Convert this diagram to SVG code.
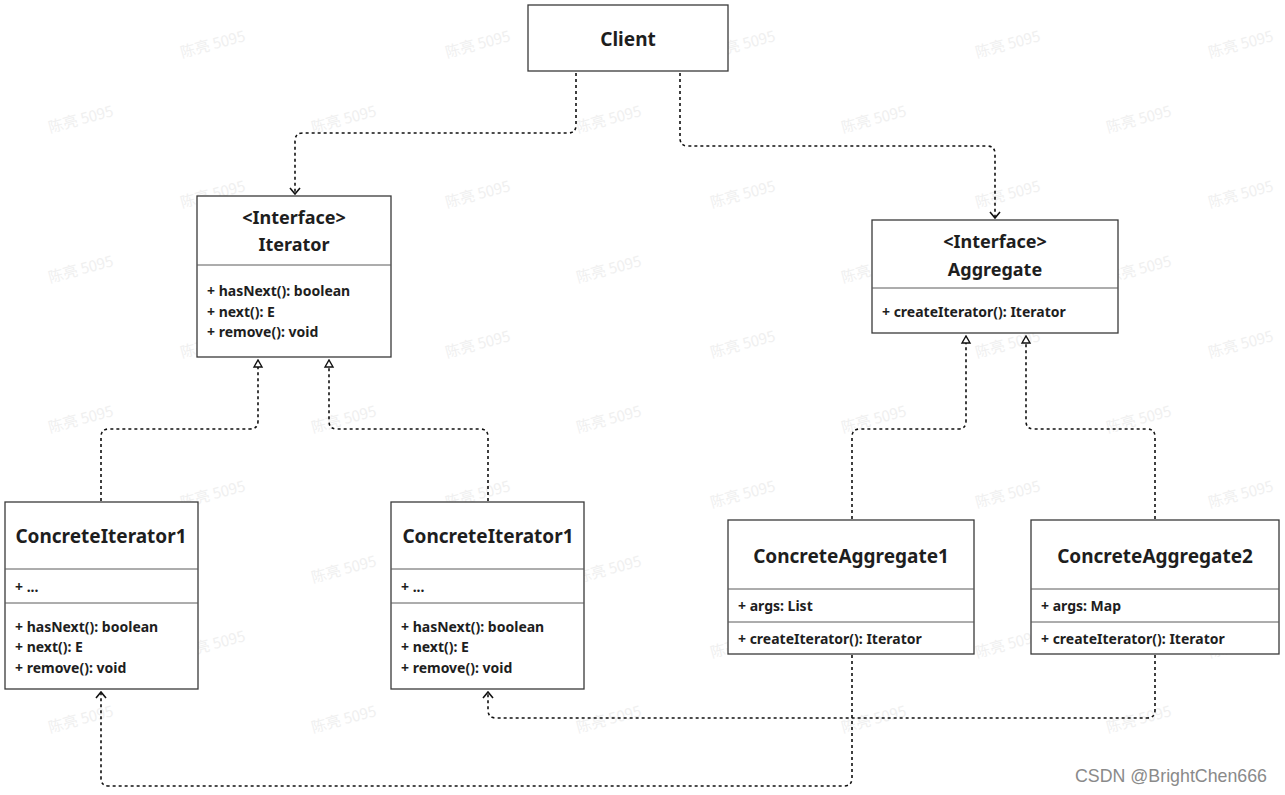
<svg xmlns="http://www.w3.org/2000/svg" width="1285" height="795" viewBox="0 0 1285 795">
<defs>
<style>
.box{fill:#fff;stroke:#3a3a3a;stroke-width:1.3}
.div{stroke:#5a5a5a;stroke-width:1}
.t{font-family:"Noto Sans","Noto Sans CJK SC",sans-serif;font-weight:700;font-size:19px;fill:#1e1e1e;text-anchor:middle}
.m{font-family:"Noto Sans","Noto Sans CJK SC",sans-serif;font-weight:700;font-size:14px;fill:#1e1e1e}
.c{fill:none;stroke:#111;stroke-width:1.6;stroke-dasharray:3 3}
.wm{font-family:"Noto Sans CJK SC","Noto Sans",sans-serif;font-size:15px;fill:#f0f0f0}
</style>
<marker id="open" viewBox="0 0 12 12" refX="11" refY="6" markerWidth="12" markerHeight="12" markerUnits="userSpaceOnUse" orient="auto">
<path d="M5,1 L11,6 L5,11" fill="none" stroke="#111" stroke-width="1.6"/>
</marker>
<marker id="tri" viewBox="0 0 12 12" refX="11" refY="6" markerWidth="12" markerHeight="12" markerUnits="userSpaceOnUse" orient="auto">
<path d="M4,2 L11,6 L4,10 Z" fill="#fff" stroke="#111" stroke-width="1.4"/>
</marker>
</defs>
<rect width="1285" height="795" fill="#fff"/>
<g id="watermarks">
<text class="wm" transform="translate(182,58) rotate(-15)">陈亮 5095</text>
<text class="wm" transform="translate(447,58) rotate(-15)">陈亮 5095</text>
<text class="wm" transform="translate(712,58) rotate(-15)">陈亮 5095</text>
<text class="wm" transform="translate(977,58) rotate(-15)">陈亮 5095</text>
<text class="wm" transform="translate(1210,58) rotate(-15)">陈亮 5095</text>
<text class="wm" transform="translate(50,133) rotate(-15)">陈亮 5095</text>
<text class="wm" transform="translate(313,133) rotate(-15)">陈亮 5095</text>
<text class="wm" transform="translate(578,133) rotate(-15)">陈亮 5095</text>
<text class="wm" transform="translate(843,133) rotate(-15)">陈亮 5095</text>
<text class="wm" transform="translate(1108,133) rotate(-15)">陈亮 5095</text>
<text class="wm" transform="translate(182,208) rotate(-15)">陈亮 5095</text>
<text class="wm" transform="translate(447,208) rotate(-15)">陈亮 5095</text>
<text class="wm" transform="translate(712,208) rotate(-15)">陈亮 5095</text>
<text class="wm" transform="translate(977,208) rotate(-15)">陈亮 5095</text>
<text class="wm" transform="translate(1210,208) rotate(-15)">陈亮 5095</text>
<text class="wm" transform="translate(50,283) rotate(-15)">陈亮 5095</text>
<text class="wm" transform="translate(313,283) rotate(-15)">陈亮 5095</text>
<text class="wm" transform="translate(578,283) rotate(-15)">陈亮 5095</text>
<text class="wm" transform="translate(843,283) rotate(-15)">陈亮 5095</text>
<text class="wm" transform="translate(1108,283) rotate(-15)">陈亮 5095</text>
<text class="wm" transform="translate(182,358) rotate(-15)">陈亮 5095</text>
<text class="wm" transform="translate(447,358) rotate(-15)">陈亮 5095</text>
<text class="wm" transform="translate(712,358) rotate(-15)">陈亮 5095</text>
<text class="wm" transform="translate(977,358) rotate(-15)">陈亮 5095</text>
<text class="wm" transform="translate(1210,358) rotate(-15)">陈亮 5095</text>
<text class="wm" transform="translate(50,433) rotate(-15)">陈亮 5095</text>
<text class="wm" transform="translate(313,433) rotate(-15)">陈亮 5095</text>
<text class="wm" transform="translate(578,433) rotate(-15)">陈亮 5095</text>
<text class="wm" transform="translate(843,433) rotate(-15)">陈亮 5095</text>
<text class="wm" transform="translate(1108,433) rotate(-15)">陈亮 5095</text>
<text class="wm" transform="translate(182,508) rotate(-15)">陈亮 5095</text>
<text class="wm" transform="translate(447,508) rotate(-15)">陈亮 5095</text>
<text class="wm" transform="translate(712,508) rotate(-15)">陈亮 5095</text>
<text class="wm" transform="translate(977,508) rotate(-15)">陈亮 5095</text>
<text class="wm" transform="translate(1210,508) rotate(-15)">陈亮 5095</text>
<text class="wm" transform="translate(50,583) rotate(-15)">陈亮 5095</text>
<text class="wm" transform="translate(313,583) rotate(-15)">陈亮 5095</text>
<text class="wm" transform="translate(578,583) rotate(-15)">陈亮 5095</text>
<text class="wm" transform="translate(843,583) rotate(-15)">陈亮 5095</text>
<text class="wm" transform="translate(1108,583) rotate(-15)">陈亮 5095</text>
<text class="wm" transform="translate(182,658) rotate(-15)">陈亮 5095</text>
<text class="wm" transform="translate(447,658) rotate(-15)">陈亮 5095</text>
<text class="wm" transform="translate(712,658) rotate(-15)">陈亮 5095</text>
<text class="wm" transform="translate(977,658) rotate(-15)">陈亮 5095</text>
<text class="wm" transform="translate(1210,658) rotate(-15)">陈亮 5095</text>
<text class="wm" transform="translate(50,733) rotate(-15)">陈亮 5095</text>
<text class="wm" transform="translate(313,733) rotate(-15)">陈亮 5095</text>
<text class="wm" transform="translate(578,733) rotate(-15)">陈亮 5095</text>
<text class="wm" transform="translate(843,733) rotate(-15)">陈亮 5095</text>
<text class="wm" transform="translate(1108,733) rotate(-15)">陈亮 5095</text>
</g>
<g id="connectors">
<path class="c" d="M576,73 V125 Q576,133 568,133 H303 Q295,133 295,141 V194" marker-end="url(#open)"/>
<path class="c" d="M680,73 V138 Q680,146 688,146 H987 Q995,146 995,154 V218" marker-end="url(#open)"/>
<path class="c" d="M101,501 V437 Q101,429 109,429 H250 Q258,429 258,421 V360" marker-end="url(#tri)"/>
<path class="c" d="M488,501 V437 Q488,429 480,429 H337 Q329,429 329,421 V360" marker-end="url(#tri)"/>
<path class="c" d="M852,519 V437 Q852,429 860,429 H958 Q966,429 966,421 V336" marker-end="url(#tri)"/>
<path class="c" d="M1155,519 V437 Q1155,429 1147,429 H1034 Q1026,429 1026,421 V336" marker-end="url(#tri)"/>
<path class="c" d="M852,655 V778 Q852,786 844,786 H109 Q101,786 101,778 V692" marker-end="url(#open)"/>
<path class="c" d="M1155,655 V710 Q1155,718 1147,718 H496 Q488,718 488,710 V692" marker-end="url(#open)"/>
</g>
<g id="client">
<rect class="box" x="528" y="5" width="200" height="66"/>
<text class="t" x="628" y="46">Client</text>
</g>
<g id="iterator">
<rect class="box" x="197" y="196" width="194" height="161"/>
<line class="div" x1="197" y1="265" x2="391" y2="265"/>
<text class="t" x="294" y="224" style="font-size:18px">&lt;Interface&gt;</text>
<text class="t" x="294" y="251" style="font-size:18px">Iterator</text>
<text class="m" x="207" y="296">+ hasNext(): boolean</text>
<text class="m" x="207" y="317">+ next(): E</text>
<text class="m" x="207" y="337">+ remove(): void</text>
</g>
<g id="aggregate">
<rect class="box" x="872" y="220" width="246" height="113"/>
<line class="div" x1="872" y1="288" x2="1118" y2="288"/>
<text class="t" x="995" y="248" style="font-size:18px">&lt;Interface&gt;</text>
<text class="t" x="995" y="276" style="font-size:18px">Aggregate</text>
<text class="m" x="882" y="317">+ createIterator(): Iterator</text>
</g>
<g id="concreteIterator1a">
<rect class="box" x="5" y="502" width="193" height="187"/>
<line class="div" x1="5" y1="569" x2="198" y2="569"/>
<line class="div" x1="5" y1="603" x2="198" y2="603"/>
<text class="t" x="101" y="543">ConcreteIterator1</text>
<text class="m" x="15" y="592">+ ...</text>
<text class="m" x="15" y="632">+ hasNext(): boolean</text>
<text class="m" x="15" y="652">+ next(): E</text>
<text class="m" x="15" y="673">+ remove(): void</text>
</g>
<g id="concreteIterator1b">
<rect class="box" x="391" y="502" width="193" height="187"/>
<line class="div" x1="391" y1="569" x2="584" y2="569"/>
<line class="div" x1="391" y1="603" x2="584" y2="603"/>
<text class="t" x="488" y="543">ConcreteIterator1</text>
<text class="m" x="401" y="592">+ ...</text>
<text class="m" x="401" y="632">+ hasNext(): boolean</text>
<text class="m" x="401" y="652">+ next(): E</text>
<text class="m" x="401" y="673">+ remove(): void</text>
</g>
<g id="concreteAggregate1">
<rect class="box" x="728" y="520" width="246" height="134"/>
<line class="div" x1="728" y1="589" x2="974" y2="589"/>
<line class="div" x1="728" y1="622" x2="974" y2="622"/>
<text class="t" x="851" y="563">ConcreteAggregate1</text>
<text class="m" x="738" y="611">+ args: List</text>
<text class="m" x="738" y="644">+ createIterator(): Iterator</text>
</g>
<g id="concreteAggregate2">
<rect class="box" x="1031" y="520" width="248" height="134"/>
<line class="div" x1="1031" y1="589" x2="1279" y2="589"/>
<line class="div" x1="1031" y1="622" x2="1279" y2="622"/>
<text class="t" x="1155" y="563">ConcreteAggregate2</text>
<text class="m" x="1041" y="611">+ args: Map</text>
<text class="m" x="1041" y="644">+ createIterator(): Iterator</text>
</g>
<text x="1075" y="782" style="font-family:'Liberation Sans',sans-serif;font-size:17.8px;fill:#8a8a8a">CSDN @BrightChen666</text>
</svg>
